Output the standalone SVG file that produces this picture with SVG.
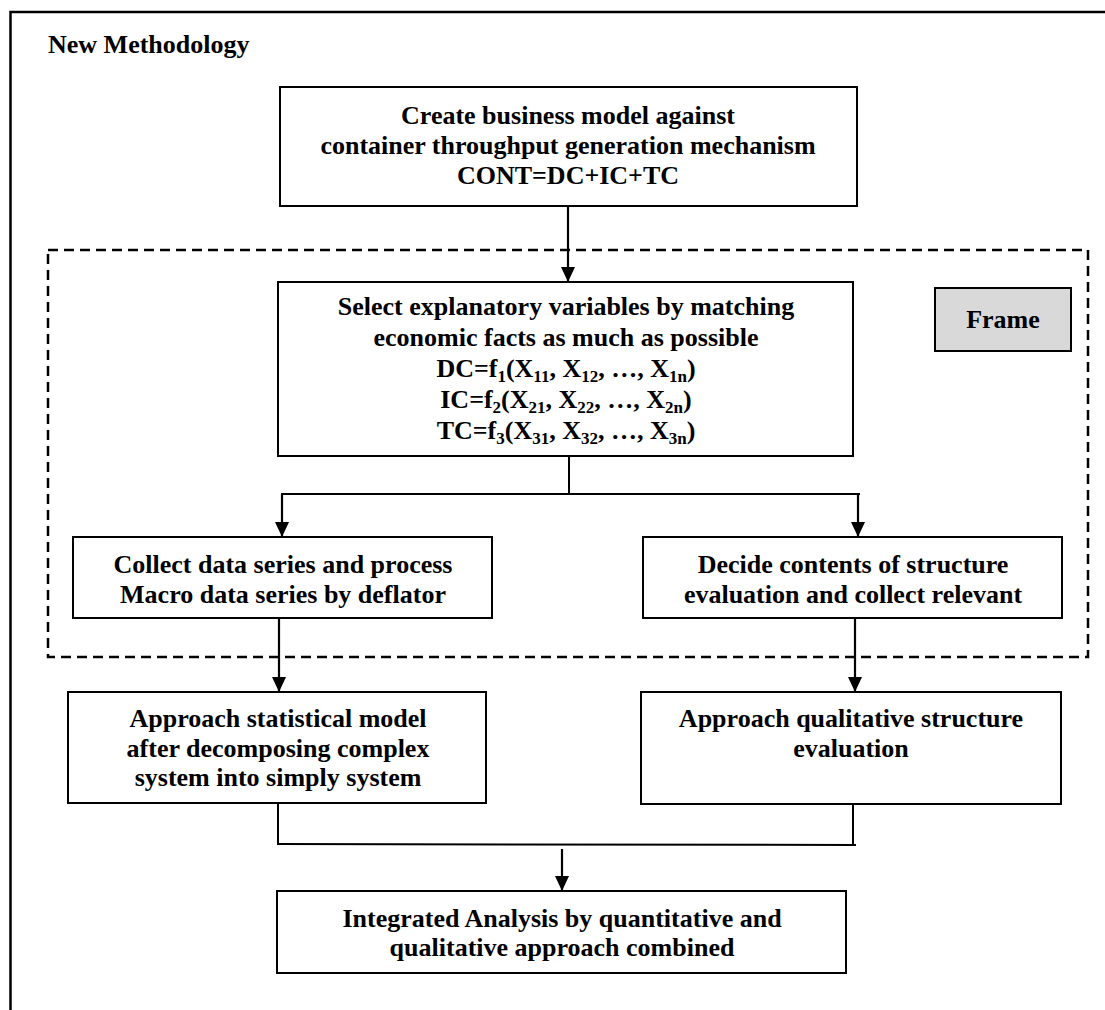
<svg xmlns="http://www.w3.org/2000/svg" width="1105" height="1010" viewBox="0 0 1105 1010">
<defs>
<style>
text{font-family:"Liberation Serif","Times New Roman",serif;font-weight:bold;font-size:26px;fill:#000}
.c{text-anchor:middle}
.sub{font-size:17px}
.box{fill:#fff;stroke:#000;stroke-width:2}
.frame{fill:#d9d9d9;stroke:#000;stroke-width:2}
.ln{fill:none;stroke:#000;stroke-width:2}
.arr{fill:none;stroke:#000;stroke-width:2.2;marker-end:url(#ah)}
</style>
<marker id="ah" viewBox="0 0 16 16" refX="15" refY="8" markerWidth="16" markerHeight="16" markerUnits="userSpaceOnUse" orient="auto">
<path d="M0,1 L15,8 L0,15 Z" fill="#000"/>
</marker>
</defs>
<rect width="1105" height="1010" fill="#fff"/>
<path d="M10.5,1010 V12 H1105" fill="none" stroke="#000" stroke-width="2.5"/>
<text x="48" y="53">New Methodology</text>
<g id="dashed-frame">
<rect x="48" y="250" width="1040" height="407" fill="none" stroke="#000" stroke-width="2.5" stroke-dasharray="10,6"/>
</g>
<g id="connectors">
<line class="arr" x1="568" y1="206" x2="568" y2="282"/>
<line class="ln" x1="569" y1="456" x2="569" y2="495"/>
<line class="ln" x1="281" y1="494" x2="860" y2="494"/>
<line class="arr" x1="282" y1="494" x2="282" y2="537"/>
<line class="arr" x1="858" y1="494" x2="858" y2="537"/>
<line class="arr" x1="279" y1="618" x2="279" y2="692"/>
<line class="arr" x1="855" y1="613" x2="855" y2="692"/>
<line class="ln" x1="278" y1="803" x2="278" y2="844"/>
<line class="ln" x1="853" y1="804" x2="853" y2="845"/>
<line class="ln" x1="277" y1="844" x2="856" y2="845"/>
<line class="arr" x1="562" y1="849" x2="562" y2="891"/>
</g>
<g id="node-business-model">
<rect class="box" x="280" y="87" width="577" height="119"/>
<text class="c" x="568" y="124">Create business model against</text>
<text class="c" x="568" y="154">container throughput generation mechanism</text>
<text class="c" x="568" y="184">CONT=DC+IC+TC</text>
</g>
<g id="node-select-variables">
<rect class="box" x="278" y="282" width="575" height="174"/>
<text class="c" x="566" y="315">Select explanatory variables by matching</text>
<text class="c" x="566" y="346">economic facts as much as possible</text>
<text class="c" x="566" y="377">DC=f<tspan class="sub" dy="5">1</tspan><tspan dy="-5">(X</tspan><tspan class="sub" dy="5">11</tspan><tspan dy="-5">, X</tspan><tspan class="sub" dy="5">12</tspan><tspan dy="-5">, …, X</tspan><tspan class="sub" dy="5">1n</tspan><tspan dy="-5">)</tspan></text>
<text class="c" x="566" y="408">IC=f<tspan class="sub" dy="5">2</tspan><tspan dy="-5">(X</tspan><tspan class="sub" dy="5">21</tspan><tspan dy="-5">, X</tspan><tspan class="sub" dy="5">22</tspan><tspan dy="-5">, …, X</tspan><tspan class="sub" dy="5">2n</tspan><tspan dy="-5">)</tspan></text>
<text class="c" x="566" y="439">TC=f<tspan class="sub" dy="5">3</tspan><tspan dy="-5">(X</tspan><tspan class="sub" dy="5">31</tspan><tspan dy="-5">, X</tspan><tspan class="sub" dy="5">32</tspan><tspan dy="-5">, …, X</tspan><tspan class="sub" dy="5">3n</tspan><tspan dy="-5">)</tspan></text>
</g>
<g id="node-frame-label">
<rect class="frame" x="935" y="288" width="136" height="63"/>
<text class="c" x="1003" y="328">Frame</text>
</g>
<g id="node-collect-data">
<rect class="box" x="73" y="537" width="419" height="81"/>
<text class="c" x="283" y="573">Collect data series and process</text>
<text class="c" x="283" y="603">Macro data series by deflator</text>
</g>
<g id="node-decide-contents">
<rect class="box" x="643" y="537" width="419" height="81"/>
<text class="c" x="853" y="573">Decide contents of structure</text>
<text class="c" x="853" y="603">evaluation and collect relevant</text>
</g>
<g id="node-statistical-model">
<rect class="box" x="68" y="692" width="418" height="111"/>
<text class="c" x="278" y="727">Approach statistical model</text>
<text class="c" x="278" y="757">after decomposing complex</text>
<text class="c" x="278" y="786">system into simply system</text>
</g>
<g id="node-qualitative">
<rect class="box" x="641" y="692" width="420" height="112"/>
<text class="c" x="851" y="727">Approach qualitative structure</text>
<text class="c" x="851" y="757">evaluation</text>
</g>
<g id="node-integrated">
<rect class="box" x="277" y="891" width="569" height="82"/>
<text class="c" x="562" y="927">Integrated Analysis by quantitative and</text>
<text class="c" x="562" y="956">qualitative approach combined</text>
</g>
</svg>
